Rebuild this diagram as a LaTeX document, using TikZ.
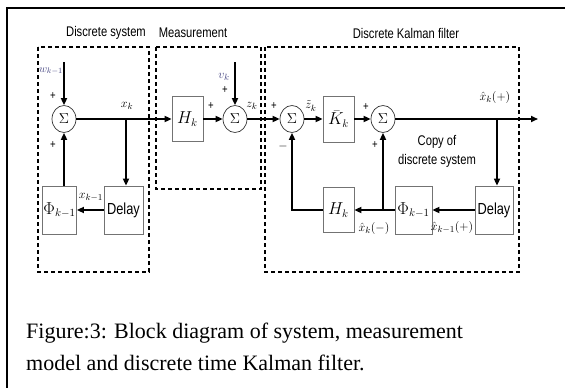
\documentclass[tikz,border=0pt]{standalone}
\usepackage{fontspec}
\setmainfont{Liberation Serif}
\newfontfamily\blockfont{Liberation Sans}[FakeStretch=0.8]
\usetikzlibrary{arrows.meta, positioning, shapes.geometric}
\definecolor{inputColor}{RGB}{70, 70, 130}
\tikzset{
    sumnode/.style={ellipse, draw=black!80, line width=0.7pt, minimum width=24pt, minimum height=27pt, inner sep=0pt, font=\fontsize{15}{17}\selectfont},
    blockbox/.style={draw=black!55, line width=0.7pt, inner sep=1pt, font=\fontsize{16}{18}\selectfont},
    groupbox/.style={draw, line width=1.1pt, dash pattern=on 4pt off 3pt},
    flow/.style={line width=1.6pt, -{Triangle[length=7pt,width=6pt]}},
    sig/.style={font=\fontsize{13}{15}\selectfont, inner sep=0pt},
    sign/.style={font=\blockfont\fontsize{12}{13}\selectfont, inner sep=0pt},
    title/.style={font=\blockfont\fontsize{14}{19}\selectfont, inner sep=0pt}
}

\begin{document}
\begin{tikzpicture}[x=1pt,y=-1pt]
    \useasboundingbox (0,0) rectangle (565,388);

    % Frame round the figure
    \draw[line width=2pt] (7,388) -- (7,8) -- (565,8);

    % Dashed boxes for the three parts
    \draw[groupbox] (38,47) rectangle (149,272);
    \draw[groupbox] (156,47) rectangle (261,189);
    \draw[groupbox] (265,47) rectangle (519,272);
    \node[title] (tsys) at (106,33) {Discrete system};
    \node[title] (tmeas) at (193,33) {Measurement};
    \node[title] (tkal) at (406,33) {Discrete Kalman filter};

    % Discrete system
    \node[sumnode] (s1) at (64,119) {$\Sigma$};
    \node[blockbox, minimum width=33pt, minimum height=48pt] (phi1) at (59.5,210) {$\Phi_{k-1}$};
    \node[blockbox, minimum width=39pt, minimum height=48pt] (dly1) at (123.5,210) {\blockfont\fontsize{16}{18}\selectfont Delay};
    \coordinate (w) at (64,62);
    \coordinate (b1) at (126,119);

    % Measurement
    \node[blockbox, minimum width=31pt, minimum height=45pt] (h1) at (187.5,119) {$H_k$};
    \node[sumnode] (s2) at (235,119) {$\Sigma$};
    \coordinate (v) at (235,62);

    % Discrete Kalman filter
    \node[sumnode] (s3) at (292,119) {$\Sigma$};
    \node[blockbox, minimum width=31pt, minimum height=46pt] (kk) at (338.5,119) {$\bar{K}_k$};
    \node[sumnode] (s4) at (383,119) {$\Sigma$};
    \coordinate (b2) at (497,119);
    \coordinate (out) at (538,119);
    \node[blockbox, minimum width=38pt, minimum height=48pt] (dly2) at (494,210) {\blockfont\fontsize{16}{18}\selectfont Delay};
    \node[blockbox, minimum width=37pt, minimum height=48pt] (phi2) at (413.5,210) {$\Phi_{k-1}$};
    \node[blockbox, minimum width=31pt, minimum height=45pt] (h2) at (338.5,210) {$H_k$};
    \coordinate (j) at (s4 |- h2);
    \node[title, align=center] (copy) at (437,151) {Copy of\\discrete system};

    % Connectors
    \draw[flow] (w) -- (s1);
    \draw[flow] (s1) -- (h1);
    \draw[flow] (b1) -- (b1 |- dly1.north);
    \draw[flow] (dly1) -- (phi1);
    \draw[flow] (phi1.north -| s1) -- (s1);
    \draw[flow] (h1) -- (s2);
    \draw[flow] (v) -- (s2);
    \draw[flow] (s2) -- (s3);
    \draw[flow] (s3) -- (kk);
    \draw[flow] (kk) -- (s4);
    \draw[flow] (s4) -- (out);
    \draw[flow] (b2) -- (b2 |- dly2.north);
    \draw[flow] (dly2) -- (phi2);
    \draw[flow] (phi2) -- (h2);
    \draw[flow] (j) -- (s4);
    \draw[flow] (h2.west) -- (h2.west -| s3) -- (s3);

    % Signal labels
    \node[sig, text=inputColor, font=\fontsize{11}{13}\selectfont] (lw) at (51,71) {$w_{k-1}$};
    \node[sig, text=inputColor] (lv) at (224,77) {$v_k$};
    \node[sig] (lx) at (127,106) {$x_k$};
    \node[sig] (lxo) at (91,197) {$x_{k-1}$};
    \node[sig] (lz) at (252,106) {$z_k$};
    \node[sig] (lzt) at (311,106) {$\tilde{z}_k$};
    \node[sig] (lxp) at (495,97) {$\hat{x}_k(+)$};
    \node[sig] (lxm) at (374,228) {$\hat{x}_k(-)$};
    \node[sig] (lxo2) at (452,227) {$\hat{x}_{k-1}(+)$};

    % Signs at the summing points
    \node[sign] at (53,96) {+};
    \node[sign] at (53,145) {+};
    \node[sign] at (211,106) {+};
    \node[sign] at (225,90) {+};
    \node[sign] at (274,106) {+};
    \node[sign] at (283,146) {$-$};
    \node[sign] at (366,107) {+};
    \node[sign] at (375,145) {+};

    % Caption
    \node[anchor=base west, inner sep=0pt, font=\fontsize{22}{32}\selectfont] (cap1) at (26,338) {Figure:3: Block diagram of system, measurement};
    \node[anchor=base west, inner sep=0pt, font=\fontsize{22}{32}\selectfont] (cap2) at (26,370) {model and discrete time Kalman filter.};
\end{tikzpicture}
\end{document}
